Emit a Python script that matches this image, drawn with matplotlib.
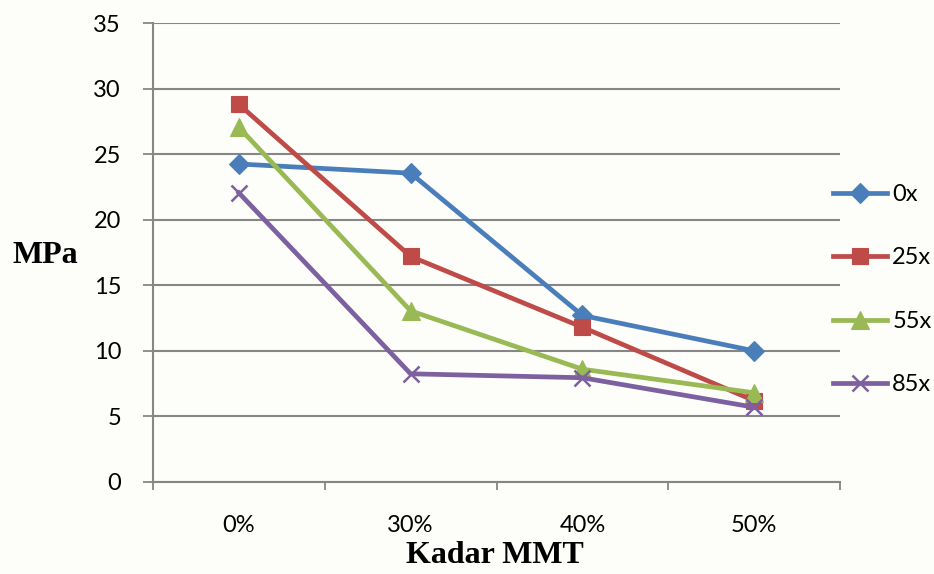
import matplotlib.pyplot as plt

kadar = ['0%', '30%', '40%', '50%']
s_0x = [24.25, 23.55, 12.7, 10.0]
s_25x = [28.8, 17.2, 11.8, 6.2]
s_55x = [27.05, 13.05, 8.6, 6.8]
s_85x = [22.05, 8.25, 7.95, 5.7]

series = [('0x', s_0x, '#4A7EBB', 'D', 10),
          ('25x', s_25x, '#BE4B48', 's', 12),
          ('55x', s_55x, '#98B954', '^', 13),
          ('85x', s_85x, '#7D60A0', 'x', 12)]

fig = plt.figure(figsize=(9.34, 5.74), dpi=100)
fig.patch.set_facecolor('#FDFDF9')
ax = fig.add_axes([0.1638, 0.1603, 0.7356, 0.7996])
ax.set_facecolor('#FDFDF9')

x = range(len(kadar))
for name, vals, col, mk, ms in series:
    ax.plot(x, vals, color=col, lw=3.4, marker=mk, markersize=ms,
            markeredgewidth=1.8 if mk == 'x' else 0.8, markeredgecolor=col,
            label=name, zorder=3)

ax.set_ylim(0, 35)
ax.set_yticks(range(0, 36, 5))
ax.set_xlim(-0.5, 3.5)
ax.set_xticks(list(x))
ax.set_xticklabels(kadar)
ax.set_xticks([-0.5, 0.5, 1.5, 2.5, 3.5], minor=True)
ax.tick_params(axis='x', which='major', length=0, pad=24)
ax.tick_params(axis='x', which='minor', length=6, color='#868686', width=1.3)
ax.tick_params(axis='y', length=7, color='#868686', width=1.3, pad=16)
for lab in ax.get_xticklabels() + ax.get_yticklabels():
    lab.set_family(['Lato', 'DejaVu Sans'])
    lab.set_fontsize(17)

ax.grid(axis='y', color='#868686', lw=1.5)
ax.set_axisbelow(True)
for sp in ['top', 'right']:
    ax.spines[sp].set_visible(False)
for sp in ['left', 'bottom']:
    ax.spines[sp].set_color('#868686')
    ax.spines[sp].set_linewidth(1.5)

fig.text(0.048, 0.555, 'MPa', family='Liberation Serif', fontweight='bold',
         fontsize=23, ha='center', va='center')
fig.text(0.53, 0.032, 'Kadar MMT', family='Liberation Serif', fontweight='bold',
         fontsize=23, ha='center', va='center')

leg = ax.legend(loc='center left', bbox_to_anchor=(0.99, 0.419), frameon=False,
                prop={'family': 'Lato', 'size': 17}, handlelength=2.3,
                handletextpad=0.2, labelspacing=1.8, borderpad=0,
                borderaxespad=0)

fig.savefig('out.png', dpi=100, facecolor=fig.get_facecolor())
